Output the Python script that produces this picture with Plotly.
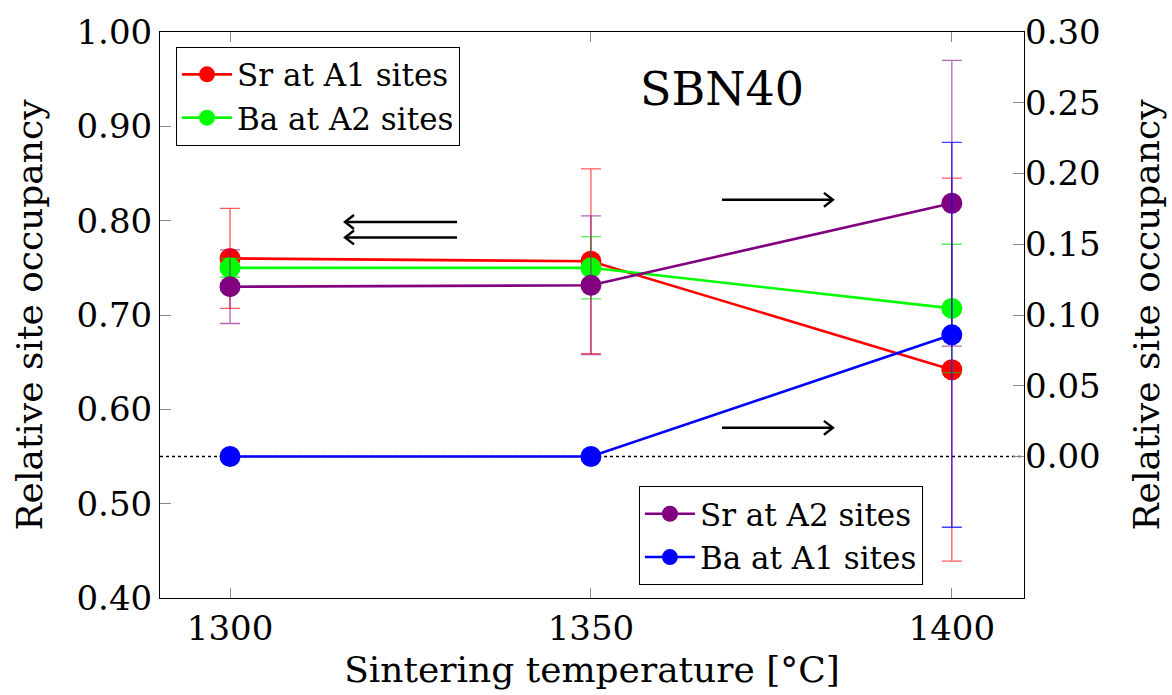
import plotly.graph_objects as go

# Sintering temperatures (°C)
temps = [1300, 1350, 1400]

# Left axis: occupancies of the majority sites
sr_a1 = [0.760, 0.757, 0.642]
sr_a1_err = [0.053, 0.098, 0.203]
ba_a2 = [0.750, 0.750, 0.707]
ba_a2_err = [0.010, 0.033, 0.068]

# Right axis: occupancies of the minority (swapped) sites
sr_a2 = [0.120, 0.121, 0.179]
sr_a2_err = [0.026, 0.049, 0.101]
ba_a1 = [0.000, 0.000, 0.086]
ba_a1_err = [0.000, 0.000, 0.136]

left_ticks = [0.40, 0.50, 0.60, 0.70, 0.80, 0.90, 1.00]
right_ticks = [0.00, 0.05, 0.10, 0.15, 0.20, 0.25, 0.30]

FONT = "DejaVu Serif"
W, H = 1172, 695
M = dict(l=160, r=148, t=30, b=94)
XR = [1290.3, 1410.0]
YR = [0.40, 1.00]
Y2R = [-0.10, 0.30]

fig = go.Figure()


def series(x, y, err, color, errcolor, name, legend, yaxis):
    return go.Scatter(
        x=x, y=y, name=name, mode="lines+markers",
        line=dict(color=color, width=2.6),
        marker=dict(color=color, size=21),
        error_y=dict(type="data", array=err, visible=True,
                     color=errcolor, thickness=1.3, width=10),
        legend=legend, yaxis=yaxis,
    )


fig.add_trace(series(temps, sr_a1, sr_a1_err, "#ff0000", "rgba(255,0,0,0.65)",
                     "Sr at A1 sites", "legend", "y"))
fig.add_trace(series(temps, ba_a2, ba_a2_err, "#00ff00", "rgba(0,230,0,0.65)",
                     "Ba at A2 sites", "legend", "y"))
fig.add_trace(series(temps, sr_a2, sr_a2_err, "#800080", "rgba(128,0,128,0.6)",
                     "Sr at A2 sites", "legend2", "y2"))
fig.add_trace(series(temps, ba_a1, ba_a1_err, "#0000ff", "rgba(0,0,255,0.75)",
                     "Ba at A1 sites", "legend2", "y2"))

# zero line of the right axis
fig.add_shape(type="line", xref="paper", yref="y2", x0=0, x1=1, y0=0, y1=0,
              line=dict(color="black", width=1.3, dash="dot"), layer="below")

# pixel -> data conversion for arrow heads
pw = W - M["l"] - M["r"]
ph = H - M["t"] - M["b"]
sx = (XR[1] - XR[0]) / pw
sy = (YR[1] - YR[0]) / ph


def arrow(x_tail, x_head, y):
    fig.add_shape(type="line", xref="x", yref="y", x0=x_tail, x1=x_head,
                  y0=y, y1=y, line=dict(color="black", width=2.6))
    d = 1 if x_head > x_tail else -1
    back = 9 * sx * d
    h = 7 * sy
    path = (f"M {x_head - back},{y + h} L {x_head},{y} "
            f"L {x_head - back},{y - h}")
    fig.add_shape(type="path", xref="x", yref="y", path=path,
                  line=dict(color="black", width=2.4))


# arrows pointing to the axis each group is read against
arrow(1331.45, 1315.93, 0.7986)
arrow(1331.45, 1315.93, 0.7822)
arrow(1368.16, 1383.53, 0.8221)
arrow(1368.16, 1383.53, 0.5804)

fig.add_annotation(x=1368.1, y=0.940, xref="x", yref="y", text="SBN40",
                   showarrow=False, font=dict(family=FONT, size=46, color="black"))

axis_font = dict(family=FONT, size=34, color="black")
title_font = dict(family=FONT, size=36, color="black")
legend_font = dict(family=FONT, size=31, color="black")

fig.update_layout(
    width=W, height=H, margin=M,
    paper_bgcolor="white", plot_bgcolor="white",
    font=dict(family=FONT, color="black"),
    xaxis=dict(
        range=XR, tickvals=temps, ticktext=[str(t) for t in temps],
        tickfont=axis_font, ticks="inside", ticklen=10, tickcolor="#888",
        showline=True, linecolor="black", linewidth=1, mirror="ticks",
        showgrid=False, zeroline=False,
        title=dict(text="Sintering temperature [°C]", font=title_font, standoff=10),
    ),
    yaxis=dict(
        range=YR, tickvals=left_ticks, ticktext=[f"{v:.2f}" for v in left_ticks],
        tickfont=axis_font, ticks="inside", ticklen=11, tickcolor="#888",
        showline=True, linecolor="black", linewidth=1, mirror=True,
        showgrid=False, zeroline=False,
        title=dict(text="Relative site occupancy", font=title_font, standoff=22),
    ),
    yaxis2=dict(
        range=Y2R, overlaying="y", side="right",
        tickvals=right_ticks, ticktext=[f"{v:.2f}" for v in right_ticks],
        tickfont=axis_font, ticks="inside", ticklen=11, tickcolor="#888",
        showline=False, showgrid=False, zeroline=False,
        title=dict(text="Relative site occupancy", font=title_font, standoff=34),
    ),
    legend=dict(
        x=0.0185, y=0.974, xanchor="left", yanchor="top",
        bordercolor="black", borderwidth=1, bgcolor="white",
        font=legend_font, itemwidth=50, tracegroupgap=0,
    ),
    legend2=dict(
        x=0.883, y=0.0228, xanchor="right", yanchor="bottom",
        bordercolor="black", borderwidth=1, bgcolor="white",
        font=legend_font, itemwidth=50, tracegroupgap=0,
    ),
    showlegend=True,
)

fig.write_html("out.html")
